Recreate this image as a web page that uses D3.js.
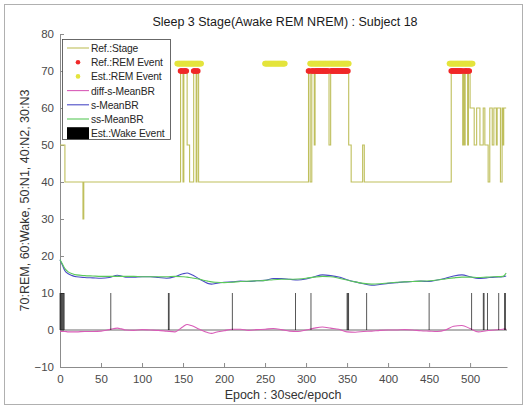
<!DOCTYPE html>
<html>
<head>
  <meta charset="UTF-8">
  <style>
    body { margin: 0; background: #fff; }
    svg { display: block; font-family: "Liberation Sans", Arial, sans-serif; }
  </style>
</head>
<body>
  <svg></svg>
  <script src="https://d3js.org/d3.v7.min.js"></script>
  <script>
    let width = 528, height = 409;

    // reference hypnogram, as step points [epoch -> stage value]
    let stageEpochs = [0, 6, 28, 29, 147, 150, 151, 155, 158, 163, 166, 167, 169,
      303, 305, 307, 310, 311, 328, 330, 352, 355, 369, 371,
      477, 491, 492, 493, 494, 497, 498, 500, 505, 508, 512, 516, 518, 522, 524,
      527, 529, 532, 533, 537, 539, 540, 541, 544];
    let stageValues = [50, 40, 30, 40, 70, 40, 70, 50, 40, 70, 40, 70, 40,
      70, 40, 70, 50, 70, 50, 70, 50, 40, 50, 40,
      70, 50, 70, 50, 70, 50, 70, 60, 50, 60, 50, 60, 50, 40, 60,
      50, 60, 50, 60, 40, 60, 50, 60, 60];

    // estimated REM epochs (start, end)
    let estRemStart = [143, 250, 305, 475];
    let estRemEnd = [172, 274, 352, 503];

    // breathing rate curves
    let brEpochs = [0, 3, 6, 10, 15, 20, 30, 40, 50, 60, 70, 75, 80, 90, 100, 110, 120, 130, 140, 150,
      155, 160, 170, 180, 185, 190, 200, 210, 220, 230, 240, 250, 260, 270, 280, 290, 300, 310, 320,
      330, 340, 350, 360, 370, 380, 390, 400, 410, 420, 430, 440, 450, 460, 470, 480, 490, 500, 510,
      520, 530, 540, 542, 544];
    let sMeanBR = [19.0, 17.5, 16.0, 15.2, 14.7, 14.4, 14.2, 14.1, 14.0, 14.2, 14.8, 14.6, 14.3, 14.3,
      14.4, 14.4, 14.2, 14.0, 14.4, 15.2, 15.4, 15.0, 13.8, 12.6, 12.4, 12.6, 12.9, 13.0, 13.2, 13.1,
      13.3, 13.4, 13.9, 13.9, 13.7, 13.5, 13.8, 14.4, 14.9, 14.7, 14.3, 13.6, 13.0, 12.5, 12.1, 12.3,
      12.6, 12.8, 13.0, 13.1, 13.2, 13.1, 13.5, 14.0, 14.6, 14.9, 14.4, 13.9, 14.1, 14.3, 14.4, 14.5, 14.6];
    let ssMeanBR = [19.0, 17.8, 16.6, 15.7, 15.2, 14.9, 14.7, 14.6, 14.5, 14.5, 14.5, 14.5, 14.5, 14.5,
      14.4, 14.4, 14.4, 14.4, 14.5, 14.4, 14.3, 14.1, 13.7, 13.2, 13.0, 12.9, 12.8, 12.9, 13.1, 13.2,
      13.3, 13.4, 13.6, 13.7, 13.7, 13.8, 14.0, 14.3, 14.5, 14.4, 14.0, 13.5, 13.0, 12.6, 12.4, 12.5,
      12.7, 12.9, 13.0, 13.1, 13.2, 13.3, 13.5, 13.8, 14.1, 14.3, 14.3, 14.2, 14.3, 14.4, 14.5, 14.8, 15.4];
    let diffSMeanBR = [-0.3, -0.4, -0.4, -0.5, -0.5, -0.5, -0.4, -0.4, -0.3, 0.1, 0.5, 0.3, 0.0, -0.1,
      0.1, 0.0, -0.1, -0.3, -0.5, 0.9, 1.5, 1.2, 0.2, -0.7, -0.9, -0.6, -0.2, 0.2, 0.2, -0.1,
      0.1, 0.2, 0.4, 0.1, -0.3, -0.4, 0.0, 0.5, 0.8, 0.5, 0.2, -0.5, -0.6, -0.4, -0.3, -0.1,
      0.0, 0.0, 0.1, 0.0, -0.2, -0.3, -0.4, 0.0, 1.0, 1.2, 0.4, -0.5, -0.2, 0.0, 0.2, 0.3, 0.2];

    // estimated wake epochs (bar height 10)
    let wakeEpochs = [0, 1, 2, 3, 4, 5, 62, 132, 133, 210, 287, 306, 350, 351, 352, 374, 450,
      502, 516, 517, 521, 535, 542, 543];

    let xTicks = d3.range(0, 501, 50);
    let yTicks = d3.range(-10, 81, 10);

    let svg = d3.select("svg").attr("width", width).attr("height", height);

    svg.append("rect")
      .attr("x", 4.5).attr("y", 4.5)
      .attr("width", 518).attr("height", 400)
      .attr("fill", "#fff").attr("stroke", "#b0b0b0");

    let x = d3.scaleLinear().domain([0, 545]).range([60, 507]);
    let y = d3.scaleLinear().domain([-10, 80]).range([367, 34]);

    // axes (ticks pointing inward, MATLAB style)
    let xAxis = svg.append("g")
      .attr("transform", "translate(0," + y(-10) + ")")
      .call(d3.axisBottom(x).tickValues(xTicks).tickSize(-4).tickSizeOuter(0).tickPadding(8));
    let yAxis = svg.append("g")
      .attr("transform", "translate(" + x(0) + ",0)")
      .call(d3.axisLeft(y).tickValues(yTicks).tickSize(-4).tickSizeOuter(0).tickPadding(6));
    [xAxis, yAxis].forEach(a => {
      a.select(".domain").attr("stroke", "#8c8c8c");
      a.selectAll(".tick line").attr("stroke", "#8c8c8c");
      a.selectAll(".tick text").attr("fill", "#4a4a4a").attr("font-size", 11.5);
    });

    // stage step line
    let stagePts = stageEpochs.map((e, i) => [e, stageValues[i]]);
    svg.append("path")
      .datum(stagePts)
      .attr("fill", "none")
      .attr("stroke", "#bfbf5c")
      .attr("stroke-width", 1.1)
      .attr("d", d3.line().x(d => x(d[0])).y(d => y(d[1])).curve(d3.curveStepAfter));

    // REM events
    let stageAt = e => stageValues[d3.bisectRight(stageEpochs, e) - 1];
    let refRem = d3.range(0, 544).filter(e => stageAt(e) == 70);
    let estRem = [];
    estRemStart.forEach((s, i) => { estRem = estRem.concat(d3.range(s, estRemEnd[i] + 1)); });

    svg.append("g").selectAll("circle")
      .data(estRem).enter().append("circle")
      .attr("cx", d => x(d)).attr("cy", y(72))
      .attr("r", 2.9).attr("fill", "#e4e43c");
    svg.append("g").selectAll("circle")
      .data(refRem).enter().append("circle")
      .attr("cx", d => x(d)).attr("cy", y(70))
      .attr("r", 2.8).attr("fill", "#f02828");

    // breathing-rate curves
    let curve = (vals, color) => {
      svg.append("path")
        .datum(brEpochs.map((e, i) => [e, vals[i]]))
        .attr("fill", "none")
        .attr("stroke", color)
        .attr("stroke-width", 1.1)
        .attr("d", d3.line().x(d => x(d[0])).y(d => y(d[1])).curve(d3.curveMonotoneX));
    };

    // wake bar baseline under the curves
    svg.append("line")
      .attr("x1", x(0)).attr("x2", x(545))
      .attr("y1", y(0)).attr("y2", y(0))
      .attr("stroke", "#6a6a6a").attr("stroke-width", 1);

    curve(diffSMeanBR, "#d95cb8");
    curve(sMeanBR, "#4b4bc6");
    curve(ssMeanBR, "#5ac85a");

    // wake bars
    svg.append("g").selectAll("rect")
      .data(wakeEpochs).enter().append("rect")
      .attr("x", d => x(d - 0.4)).attr("y", y(10))
      .attr("width", x(0.8) - x(0)).attr("height", y(0) - y(10))
      .attr("fill", "#000");

    // title and labels
    svg.append("text")
      .attr("x", 285).attr("y", 26)
      .attr("text-anchor", "middle")
      .attr("font-size", 12.5).attr("fill", "#1a1a1a")
      .text("Sleep 3 Stage(Awake REM NREM) : Subject 18");
    svg.append("text")
      .attr("x", 283).attr("y", 399)
      .attr("text-anchor", "middle")
      .attr("font-size", 12.5).attr("fill", "#333")
      .text("Epoch : 30sec/epoch");
    svg.append("text")
      .attr("transform", "translate(29," + y(35) + ") rotate(-90)")
      .attr("text-anchor", "middle")
      .attr("font-size", 12.5).attr("fill", "#333")
      .text("70:REM, 60:Wake, 50:N1, 40:N2, 30:N3");

    // legend
    let lg = svg.append("g");
    lg.append("rect")
      .attr("x", 62.5).attr("y", 39.5).attr("width", 108).attr("height", 100)
      .attr("fill", "#fff").attr("stroke", "#444").attr("stroke-width", 0.8);
    let names = ["Ref.:Stage", "Ref.:REM Event", "Est.:REM Event", "diff-s-MeanBR", "s-MeanBR", "ss-MeanBR", "Est.:Wake Event"];
    let kinds = ["line", "dot", "dot", "line", "line", "line", "bar"];
    let colors = ["#bfbf5c", "#f02828", "#e4e43c", "#d95cb8", "#4b4bc6", "#5ac85a", "#000"];
    names.forEach((n, i) => {
      let cy = 48 + i * 14.2;
      if (kinds[i] == "line") {
        lg.append("line").attr("x1", 67).attr("x2", 89).attr("y1", cy).attr("y2", cy)
          .attr("stroke", colors[i]).attr("stroke-width", 1.1);
      } else if (kinds[i] == "dot") {
        lg.append("circle").attr("cx", 78).attr("cy", cy).attr("r", 2.3).attr("fill", colors[i]);
      } else {
        lg.append("rect").attr("x", 67).attr("y", cy - 6).attr("width", 22).attr("height", 12)
          .attr("fill", colors[i]);
      }
      lg.append("text").attr("x", 91).attr("y", cy + 4)
        .attr("font-size", 10.3).attr("letter-spacing", -0.15).attr("fill", "#262626").text(n);
    });
  </script>
</body>
</html>
